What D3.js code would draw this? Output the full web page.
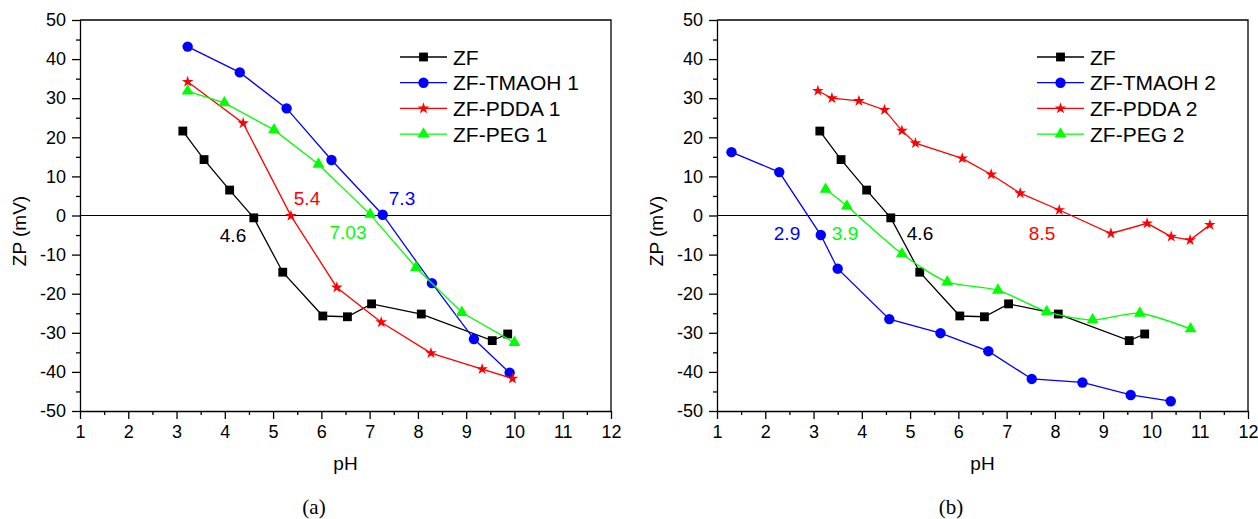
<!DOCTYPE html>
<html>
<head>
<meta charset="utf-8">
<script src="https://d3js.org/d3.v7.min.js"></script>
<style>
  body { margin: 0; background: #fff; }
  svg text { font-family: "Liberation Sans", Arial, sans-serif; fill: #000; }
  .axis path, .axis line { stroke: #000; stroke-width: 1.3; }
  .caption { font-family: "Liberation Serif", "Times New Roman", serif !important; font-size: 21px; }
</style>
</head>
<body>
<div id="chart"></div>
<script>
// tick labels
var X_TICKS = [1,2,3,4,5,6,7,8,9,10,11,12];
var Y_TICKS = [-50,-40,-30,-20,-10,0,10,20,30,40,50];

// ZF (same in both panels)
var zfPH = [3.13,3.57,4.10,4.60,5.20,6.03,6.54,7.04,8.07,9.54,9.86];
var zfZP = [21.6,14.3,6.5,-0.6,-14.5,-25.7,-25.9,-22.6,-25.2,-32.0,-30.3];

// panel (a)
var tmaoh1PH = [3.23,4.31,5.28,6.21,7.27,8.29,9.16,9.90];
var tmaoh1ZP = [43.2,36.6,27.4,14.2,0.2,-17.3,-31.6,-40.2];
var pdda1PH = [3.23,4.38,5.37,6.32,7.24,8.27,9.33,9.96];
var pdda1ZP = [34.2,23.6,-0.1,-18.4,-27.3,-35.2,-39.3,-41.7];
var peg1PH = [3.23,3.99,5.02,5.94,7.01,7.96,8.91,10.0];
var peg1ZP = [31.8,28.8,21.9,13.1,0.3,-13.3,-24.8,-32.5];

// panel (b)
var tmaoh2PH = [1.30,2.29,3.15,3.50,4.57,5.63,6.62,7.52,8.57,9.57,10.40];
var tmaoh2ZP = [16.2,11.1,-5.0,-13.6,-26.5,-30.1,-34.7,-41.8,-42.7,-45.9,-47.5];
var pdda2PH = [3.09,3.38,3.94,4.47,4.83,5.11,6.08,6.68,7.28,8.09,9.16,9.91,10.41,10.80,11.21];
var pdda2ZP = [31.9,30.0,29.3,27.0,21.7,18.5,14.6,10.5,5.7,1.4,-4.6,-2.0,-5.4,-6.3,-2.4];
var peg2PH = [3.25,3.69,4.83,5.77,6.82,7.83,8.78,9.76,10.81];
var peg2ZP = [6.7,2.4,-9.8,-17.0,-19.1,-24.6,-26.7,-25.0,-29.0];

// isoelectric point labels
var iepA = ["4.6","5.4","7.3","7.03"];
var iepB = ["2.9","3.9","4.6","8.5"];

var W = 1258, H = 519;
var svg = d3.select("#chart").append("svg")
    .attr("width", W)
    .attr("height", H);

function zip(xs, ys) {
    return xs.map(function(x, i){ return [x, ys[i]]; });
}

// plain hyphen for negatives, like the original
function plain(d) { return String(d); }

function drawPanel(cfg) {
    var x = d3.scaleLinear().domain([1, 12]).range([cfg.left, cfg.right]);
    var y = d3.scaleLinear().domain([-50, 50]).range([411, 20]);
    var g = svg.append("g");

    // frame top/right
    g.append("path")
        .attr("d", "M" + x(1) + " " + y(50) + " H" + x(12) + " V" + y(-50))
        .attr("fill", "none").attr("stroke", "#000").attr("stroke-width", 1.3);

    // zero line
    g.append("line")
        .attr("x1", x(1)).attr("x2", x(12))
        .attr("y1", y(0)).attr("y2", y(0))
        .attr("stroke", "#000").attr("stroke-width", 1.2);

    // minor ticks
    g.append("g").attr("class", "axis")
        .attr("transform", "translate(0," + y(-50) + ")")
        .call(d3.axisBottom(x).tickValues(d3.range(1.5, 12, 1)).tickSize(4).tickFormat(""))
        .select(".domain").remove();
    g.append("g").attr("class", "axis")
        .attr("transform", "translate(" + x(1) + ",0)")
        .call(d3.axisLeft(y).tickValues(d3.range(-45, 50, 10)).tickSize(4).tickFormat(""))
        .select(".domain").remove();

    // major axes
    g.append("g").attr("class", "axis")
        .attr("transform", "translate(0," + y(-50) + ")")
        .call(d3.axisBottom(x).tickValues(X_TICKS).tickFormat(plain).tickSize(8).tickSizeOuter(0).tickPadding(6))
        .selectAll("text").style("font-size", "18px").style("font-family", "'Liberation Sans', Arial, sans-serif");
    g.append("g").attr("class", "axis")
        .attr("transform", "translate(" + x(1) + ",0)")
        .call(d3.axisLeft(y).tickValues(Y_TICKS).tickFormat(plain).tickSize(8).tickSizeOuter(0).tickPadding(6))
        .selectAll("text").style("font-size", "18px").style("font-family", "'Liberation Sans', Arial, sans-serif");

    // axis titles
    g.append("text")
        .attr("x", (x(1) + x(12)) / 2).attr("y", 470)
        .attr("text-anchor", "middle").style("font-size", "19px")
        .text("pH");
    g.append("text")
        .attr("transform", "translate(" + (x(1) - 54) + ",231) rotate(-90)")
        .attr("text-anchor", "middle").style("font-size", "19px")
        .text("ZP (mV)");

    // series
    var line = d3.line().x(function(d){ return x(d[0]); }).y(function(d){ return y(d[1]); });
    cfg.series.forEach(function(s) {
        var data = zip(s.ph, s.zp);
        g.append("path")
            .attr("d", line.curve(s.smooth ? d3.curveCardinal.tension(0.3) : d3.curveLinear)(data))
            .attr("fill", "none").attr("stroke", s.color).attr("stroke-width", 1.3);
        g.selectAll(null).data(data).enter().append("path")
            .attr("transform", function(d){ return "translate(" + x(d[0]) + "," + y(d[1]) + ")"; })
            .attr("d", d3.symbol().type(s.symbol).size(s.size))
            .attr("fill", s.color);
    });

    // iep labels
    cfg.labels.forEach(function(l) {
        g.append("text")
            .attr("x", l.x).attr("y", l.y)
            .attr("text-anchor", "middle").attr("dy", "0.35em")
            .style("font-size", "19px").style("fill", l.color)
            .text(l.text);
    });

    // legend
    var lg = g.append("g").attr("transform", "translate(" + cfg.legendX + ",57)");
    cfg.series.forEach(function(s, i) {
        var row = lg.append("g").attr("transform", "translate(0," + (i * 25.7) + ")");
        row.append("line").attr("x1", 0).attr("x2", 47)
            .attr("stroke", s.color).attr("stroke-width", 1.3);
        row.append("path")
            .attr("transform", "translate(23.5,0)")
            .attr("d", d3.symbol().type(s.symbol).size(s.size))
            .attr("fill", s.color);
        row.append("text").attr("x", 53).attr("dy", "0.36em")
            .style("font-size", "21px").text(s.name);
    });

    // caption
    g.append("text").attr("class", "caption")
        .attr("x", cfg.captionX).attr("y", 514)
        .attr("text-anchor", "middle")
        .text(cfg.caption);
}

var SQ = { symbol: d3.symbolSquare, size: 78, color: "#000000" };

drawPanel({
    left: 80, right: 611, legendX: 400, captionX: 314, caption: "(a)",
    series: [
        Object.assign({ name: "ZF", ph: zfPH, zp: zfZP }, SQ),
        { name: "ZF-TMAOH 1", ph: tmaoh1PH, zp: tmaoh1ZP, symbol: d3.symbolCircle, size: 85, color: "#0000ff" },
        { name: "ZF-PDDA 1", ph: pdda1PH, zp: pdda1ZP, symbol: d3.symbolStar, size: 42, color: "#ff0000" },
        { name: "ZF-PEG 1", ph: peg1PH, zp: peg1ZP, symbol: d3.symbolTriangle, size: 62, color: "#00ff00" }
    ],
    labels: [
        { text: iepA[0], x: 233, y: 235, color: "#000000" },
        { text: iepA[1], x: 307, y: 198, color: "#ff0000" },
        { text: iepA[2], x: 402, y: 198, color: "#0000ff" },
        { text: iepA[3], x: 348, y: 232, color: "#00ff00" }
    ]
});

drawPanel({
    left: 717, right: 1248, legendX: 1037, captionX: 951, caption: "(b)",
    series: [
        Object.assign({ name: "ZF", ph: zfPH, zp: zfZP }, SQ),
        { name: "ZF-TMAOH 2", ph: tmaoh2PH, zp: tmaoh2ZP, symbol: d3.symbolCircle, size: 85, color: "#0000ff" },
        { name: "ZF-PDDA 2", ph: pdda2PH, zp: pdda2ZP, symbol: d3.symbolStar, size: 42, color: "#ff0000" },
        { name: "ZF-PEG 2", ph: peg2PH, zp: peg2ZP, symbol: d3.symbolTriangle, size: 62, color: "#00ff00", smooth: true }
    ],
    labels: [
        { text: iepB[0], x: 787, y: 233, color: "#0000ff" },
        { text: iepB[1], x: 845, y: 233, color: "#00ff00" },
        { text: iepB[2], x: 920, y: 233, color: "#000000" },
        { text: iepB[3], x: 1042, y: 233, color: "#ff0000" }
    ]
});
</script>
</body>
</html>
